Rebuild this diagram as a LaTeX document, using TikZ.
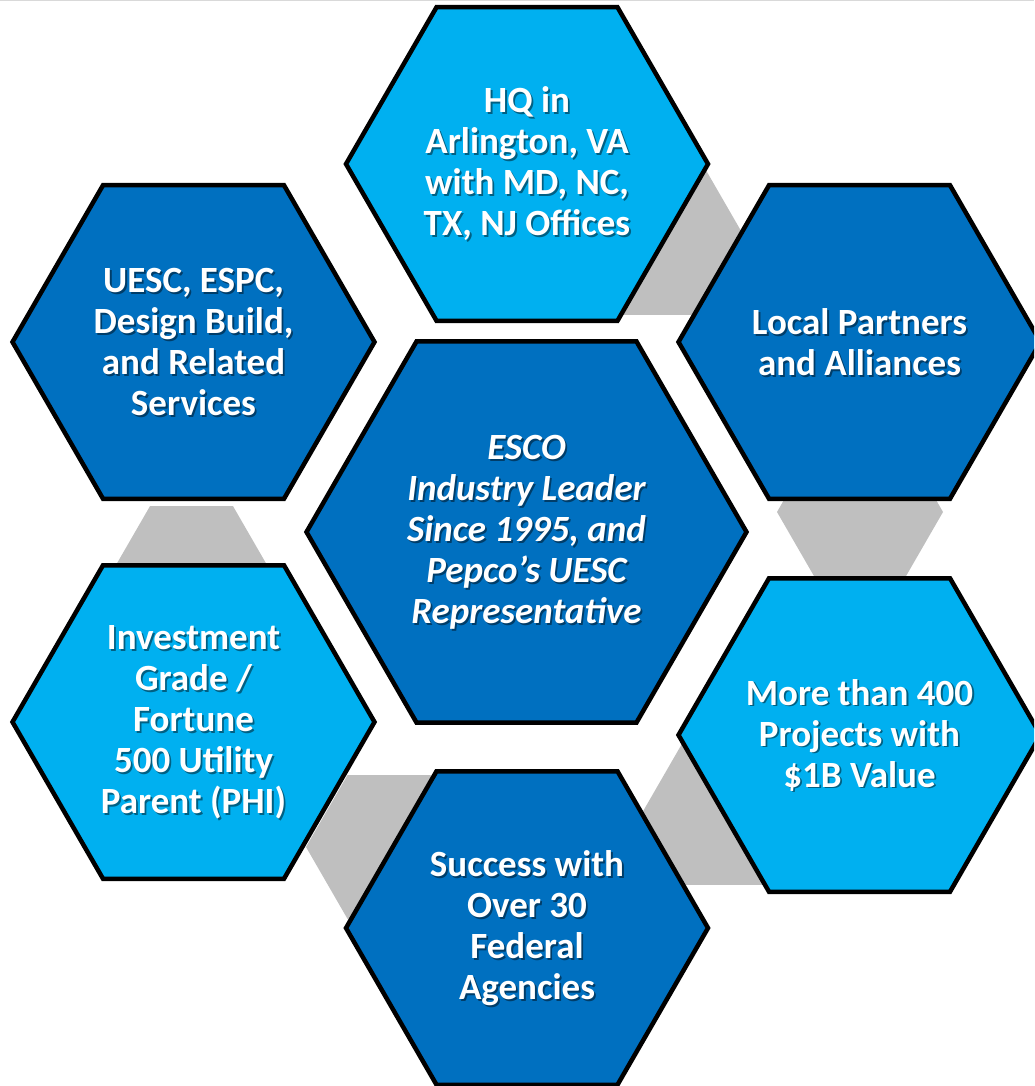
\documentclass[tikz,border=0pt]{standalone}
\usepackage{fontspec}
\setmainfont{Carlito}
\usepackage{tikz}
\usetikzlibrary{shapes.geometric}
\definecolor{darkblue}{HTML}{0070C0}
\definecolor{lightblue}{HTML}{00B0F0}
\definecolor{linkgray}{HTML}{BFBFBF}
\tikzstyle{hexa} = [regular polygon,regular polygon sides=6,minimum size=362pt,inner sep=0pt,draw=black,line width=4.5pt]
\tikzstyle{core} = [hexa,minimum size=440pt,fill=darkblue]
\tikzstyle{link} = [regular polygon,regular polygon sides=6,minimum size=166pt,inner sep=0pt,fill=linkgray]
\tikzstyle{txt} = [text=white,align=center,inner sep=0pt,font=\fontsize{37}{41}\selectfont\bfseries]
\tikzstyle{txtshade} = [text=black,text opacity=0.45]
% white text with a soft shadow under it
\newcommand{\celltext}[3][]{%
  \node[txt,txtshade,#1] at ([shift={(1.8,1.8)}]#2) {#3};
  \node[txt,#1] (#2-text) at (#2) {#3};}

\begin{document}
\begin{tikzpicture}[x=1pt,y=-1pt]
    \clip (0,0) rectangle (1034,1086);
    \draw[black!15,line width=1.5pt] (0,0.5) -- (1034,0.5);
    % grey links between the outer cells
    \node[link] (link1) at (665,243) {};
    \node[link] (link2) at (860,512) {};
    \node[link] (link3) at (725,813) {};
    \node[link] (link4) at (389,847) {};
    \node[link] (link5) at (191.5,578) {};
    % outer cells
    \node[hexa,fill=lightblue] (hq) at (527,164) {};
    \node[hexa,fill=darkblue] (partners) at (859.5,342) {};
    \node[hexa,fill=lightblue] (projects) at (859.5,735) {};
    \node[hexa,fill=darkblue] (agencies) at (527,928) {};
    \node[hexa,fill=lightblue] (parent) at (193.5,722) {};
    \node[hexa,fill=darkblue] (services) at (193.5,342) {};
    % centre cell
    \node[core] (esco) at (526.5,532) {};
    % texts
    \celltext{hq}{HQ in\\Arlington, VA\\with MD, NC,\\TX, NJ Offices}
    \celltext{partners}{Local Partners\\and Alliances}
    \celltext{projects}{More than 400\\Projects with\\\$1B Value}
    \celltext{agencies}{Success with\\Over 30\\Federal\\Agencies}
    \celltext{parent}{Investment\\Grade /\\Fortune\\500 Utility\\Parent (PHI)}
    \celltext{services}{UESC, ESPC,\\Design Build,\\and Related\\Services}
    \celltext[font=\fontsize{37}{41}\selectfont\bfseries\itshape]{esco}{ESCO\\Industry Leader\\Since 1995, and\\Pepco’s UESC\\Representative}
\end{tikzpicture}
\end{document}
